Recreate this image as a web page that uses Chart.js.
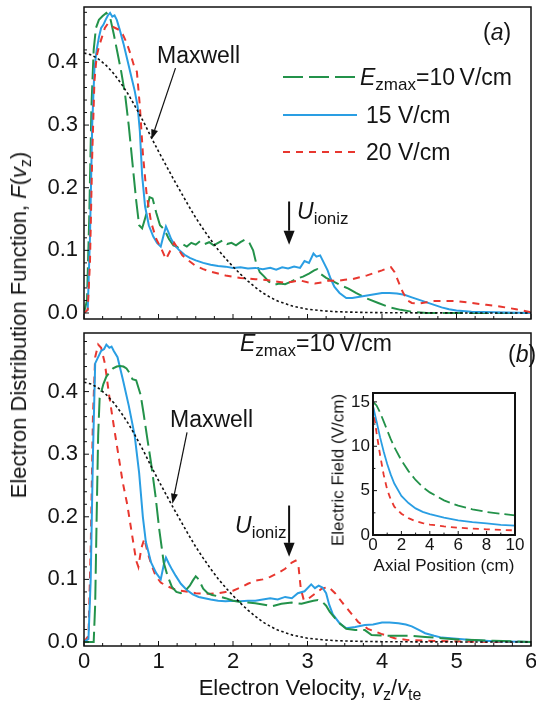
<!DOCTYPE html>
<html lang="en">
<head>
<meta charset="utf-8">
<title>Electron Distribution Function</title>
<script src="https://cdn.jsdelivr.net/npm/chart.js@4.4.1/dist/chart.umd.min.js"></script>
<style>
  body { margin: 0; background: #fff; }
  #fig { position: relative; width: 536px; height: 705px; overflow: hidden;
         font-family: "Liberation Sans", Arial, sans-serif; color: #141414; }
  #fig canvas { position: absolute; }
  .txt { position: absolute; white-space: nowrap; font-size: 22px; line-height: 1; transform: translateY(-50%); }
  .txt sub { font-size: 16px; vertical-align: baseline; position: relative; top: 5px; }
  .nota { font-size: 23px; }
  .nota sub { font-size: 17px; }
  .pequeno { font-size: 17px; }
  .vert { transform: translate(-50%, -50%) rotate(-90deg); }
  .centro { transform: translate(-50%, -50%); }
</style>
</head>
<body>
<div id="fig">
  <canvas id="graficoA" style="left:0;top:0" width="536" height="330"></canvas>
  <canvas id="graficoB" style="left:0;top:330px" width="536" height="375"></canvas>
  <canvas id="graficoInset" style="left:320px;top:385px" width="210" height="190"></canvas>

  <div class="txt nota" style="left:483px;top:32px">(<i>a</i>)</div>
  <div class="txt nota" style="left:360px;top:77px"><i>E</i><sub>zmax</sub>=10&#8201;V/cm</div>
  <div class="txt nota" style="left:366px;top:115px">15 V/cm</div>
  <div class="txt nota" style="left:366px;top:152px">20 V/cm</div>
  <div class="txt nota" style="left:157px;top:55px">Maxwell</div>
  <div class="txt nota" style="left:297px;top:211px"><i>U</i><sub>ioniz</sub></div>

  <div class="txt nota" style="left:240px;top:343px"><i>E</i><sub>zmax</sub>=10&#8201;V/cm</div>
  <div class="txt nota" style="left:508px;top:354px">(<i>b</i>)</div>
  <div class="txt nota" style="left:170px;top:419px">Maxwell</div>
  <div class="txt nota" style="left:235px;top:525px"><i>U</i><sub>ioniz</sub></div>

  <div class="txt vert" style="left:19px;top:325px">Electron Distribution Function, <i>F</i>(<i>v</i><sub>z</sub>)</div>
  <div class="txt centro" style="left:310px;top:688px">Electron Velocity, <i>v</i><sub>z</sub>/<i>v</i><sub>te</sub></div>

  <div class="txt pequeno centro" style="left:444px;top:565px">Axial Position (cm)</div>
  <div class="txt pequeno vert" style="left:338px;top:470px">Electric Field (V/cm)</div>
</div>

<script>
const velTicks = [0, 1, 2, 3, 4, 5, 6]
const fTicks = [0, 0.1, 0.2, 0.3, 0.4]
const posTicks = [0, 2, 4, 6, 8, 10]
const campoTicks = [0, 5, 10, 15]

// Maxwell (pontilhada, igual nos dois paineis)
const vMaxwell = [0, 0.1, 0.2, 0.3, 0.4, 0.5, 0.6, 0.7, 0.8, 0.9, 1.0, 1.1, 1.2, 1.3, 1.4, 1.5, 1.6, 1.7, 1.8, 1.9, 2.0, 2.1, 2.2, 2.3, 2.4, 2.5, 2.6, 2.8, 3.0, 3.2, 3.4, 3.7, 4.0, 4.5, 5.0, 6.0]
const fMaxwell = [0.415, 0.412, 0.405, 0.395, 0.382, 0.366, 0.348, 0.327, 0.305, 0.281, 0.258, 0.236, 0.214, 0.193, 0.172, 0.152, 0.134, 0.117, 0.101, 0.087, 0.074, 0.062, 0.051, 0.041, 0.032, 0.025, 0.019, 0.011, 0.006, 0.0035, 0.002, 0.001, 0.0005, 0.0002, 0.0001, 0]

// painel (a)
const vA10 = [0, 0.04, 0.07, 0.1, 0.13, 0.16, 0.2, 0.25, 0.3, 0.35, 0.4, 0.45, 0.5, 0.55, 0.6, 0.65, 0.7, 0.74, 0.78, 0.83, 0.88, 0.92, 0.97, 1.02, 1.08, 1.14, 1.2, 1.26, 1.32, 1.38, 1.44, 1.5, 1.56, 1.62, 1.68, 1.74, 1.8, 1.86, 1.92, 1.98, 2.04, 2.1, 2.16, 2.22, 2.27, 2.31, 2.36, 2.42, 2.48, 2.55, 2.62, 2.7, 2.78, 2.86, 2.94, 3.02, 3.09, 3.13, 3.18, 3.25, 3.35, 3.45, 3.55, 3.65, 3.8, 3.95, 4.1, 4.25, 4.4, 4.6, 5, 6]
const fA10 = [0, 0.02, 0.15, 0.33, 0.42, 0.455, 0.468, 0.474, 0.479, 0.472, 0.445, 0.415, 0.385, 0.35, 0.3, 0.24, 0.18, 0.14, 0.135, 0.155, 0.185, 0.183, 0.16, 0.14, 0.133, 0.118, 0.108, 0.105, 0.11, 0.106, 0.112, 0.109, 0.115, 0.11, 0.113, 0.108, 0.112, 0.116, 0.11, 0.112, 0.108, 0.113, 0.117, 0.112, 0.1, 0.08, 0.065, 0.058, 0.05, 0.045, 0.047, 0.046, 0.05, 0.055, 0.058, 0.063, 0.068, 0.07, 0.062, 0.056, 0.05, 0.044, 0.039, 0.032, 0.023, 0.016, 0.009, 0.005, 0.002, 0, 0, 0]

const vA15 = [0, 0.05, 0.08, 0.11, 0.14, 0.17, 0.2, 0.23, 0.26, 0.29, 0.32, 0.35, 0.38, 0.41, 0.44, 0.48, 0.53, 0.58, 0.63, 0.68, 0.72, 0.75, 0.78, 0.82, 0.87, 0.93, 0.98, 1.03, 1.07, 1.1, 1.13, 1.17, 1.22, 1.28, 1.35, 1.42, 1.5, 1.6, 1.7, 1.8, 1.9, 2.0, 2.1, 2.2, 2.3, 2.4, 2.5, 2.58, 2.66, 2.74, 2.82, 2.9, 2.96, 3.02, 3.08, 3.12, 3.17, 3.22, 3.27, 3.31, 3.36, 3.43, 3.52, 3.6, 3.7, 3.8, 3.9, 4.0, 4.1, 4.2, 4.3, 4.4, 4.5, 4.6, 4.7, 4.8, 4.9, 5.0, 5.2, 5.5, 6]
const fA15 = [0, 0.005, 0.12, 0.3, 0.39, 0.42, 0.44, 0.455, 0.46, 0.468, 0.475, 0.479, 0.473, 0.475, 0.468, 0.452, 0.43, 0.405, 0.38, 0.355, 0.33, 0.29, 0.22, 0.17, 0.14, 0.122, 0.112, 0.106, 0.125, 0.138, 0.13, 0.118, 0.108, 0.1, 0.093, 0.088, 0.084, 0.08, 0.077, 0.075, 0.074, 0.072, 0.073, 0.071, 0.072, 0.07, 0.072, 0.069, 0.073, 0.071, 0.074, 0.072, 0.083, 0.08, 0.095, 0.09, 0.092, 0.08, 0.068, 0.055, 0.042, 0.032, 0.024, 0.024, 0.026, 0.028, 0.03, 0.032, 0.032, 0.031, 0.029, 0.025, 0.021, 0.017, 0.013, 0.009, 0.006, 0.004, 0.002, 0.001, 0]

const vA20 = [0, 0.05, 0.08, 0.11, 0.14, 0.17, 0.2, 0.24, 0.28, 0.32, 0.37, 0.42, 0.47, 0.52, 0.57, 0.62, 0.67, 0.71, 0.75, 0.79, 0.84, 0.9, 0.97, 1.04, 1.1, 1.16, 1.21, 1.26, 1.32, 1.4, 1.5, 1.6, 1.7, 1.8, 1.9, 2.0, 2.1, 2.2, 2.3, 2.4, 2.5, 2.6, 2.7, 2.8, 2.9, 3.0, 3.1, 3.2, 3.3, 3.4, 3.5, 3.6, 3.7, 3.8, 3.9, 4.0, 4.06, 4.12, 4.17, 4.22, 4.28, 4.34, 4.4, 4.5, 4.6, 4.7, 4.8, 5.0, 5.2, 5.4, 5.6, 5.8, 6]
const fA20 = [0, 0.005, 0.08, 0.25, 0.37, 0.41, 0.425, 0.44, 0.455, 0.462, 0.458, 0.455, 0.452, 0.445, 0.432, 0.415, 0.395, 0.385, 0.33, 0.255, 0.19, 0.145, 0.118, 0.102, 0.086, 0.1, 0.112, 0.103, 0.092, 0.084, 0.075, 0.07, 0.066, 0.063, 0.06, 0.058, 0.056, 0.055, 0.054, 0.053, 0.052, 0.05, 0.048, 0.05, 0.052, 0.049, 0.047, 0.049, 0.052, 0.051, 0.053, 0.054, 0.057, 0.06, 0.064, 0.068, 0.071, 0.073, 0.065, 0.05, 0.033, 0.02, 0.016, 0.015, 0.017, 0.019, 0.019, 0.019, 0.016, 0.013, 0.01, 0.006, 0.001]

// painel (b)
const vB10 = [0, 0.13, 0.15, 0.17, 0.19, 0.21, 0.26, 0.3, 0.35, 0.39, 0.44, 0.48, 0.53, 0.57, 0.61, 0.65, 0.7, 0.76, 0.8, 0.85, 0.9, 0.96, 1.01, 1.07, 1.12, 1.18, 1.24, 1.3, 1.36, 1.42, 1.46, 1.5, 1.54, 1.6, 1.66, 1.72, 1.8, 1.9, 2.0, 2.1, 2.2, 2.3, 2.4, 2.52, 2.65, 2.79, 2.92, 3.01, 3.08, 3.14, 3.2, 3.25, 3.3, 3.41, 3.52, 3.64, 3.77, 3.86, 4.04, 4.22, 4.4, 4.58, 4.8, 5.02, 5.25, 5.5, 6]
const fB10 = [0, 0, 0.06, 0.2, 0.33, 0.39, 0.412, 0.424, 0.432, 0.437, 0.44, 0.441, 0.44, 0.437, 0.43, 0.42, 0.418, 0.395, 0.365, 0.325, 0.286, 0.233, 0.18, 0.127, 0.106, 0.088, 0.08, 0.078, 0.082, 0.09, 0.098, 0.105, 0.1, 0.085, 0.078, 0.075, 0.073, 0.07, 0.066, 0.064, 0.063, 0.062, 0.06, 0.057, 0.061, 0.063, 0.061, 0.064, 0.066, 0.067, 0.064, 0.058, 0.048, 0.032, 0.021, 0.019, 0.019, 0.011, 0.01, 0.01, 0.01, 0.008, 0.006, 0.004, 0.003, 0.002, 0]

const vB15 = [0, 0.06, 0.09, 0.12, 0.15, 0.19, 0.23, 0.27, 0.3, 0.34, 0.37, 0.4, 0.45, 0.52, 0.6, 0.68, 0.74, 0.79, 0.83, 0.9, 0.97, 1.03, 1.07, 1.1, 1.14, 1.18, 1.23, 1.3, 1.38, 1.46, 1.54, 1.62, 1.7, 1.8, 1.9, 2.0, 2.1, 2.2, 2.3, 2.4, 2.5, 2.6, 2.7, 2.79, 2.87, 2.96, 3.05, 3.1, 3.15, 3.2, 3.25, 3.29, 3.34, 3.43, 3.52, 3.64, 3.77, 3.88, 4.0, 4.1, 4.22, 4.32, 4.4, 4.5, 4.58, 4.7, 4.8, 5.0, 5.2, 5.5, 6]
const fB15 = [0, 0.005, 0.1, 0.3, 0.445, 0.455, 0.465, 0.468, 0.475, 0.47, 0.472, 0.465, 0.455, 0.42, 0.378, 0.33, 0.27, 0.2, 0.16, 0.127, 0.11, 0.1, 0.123, 0.135, 0.125, 0.116, 0.106, 0.093, 0.083, 0.076, 0.072, 0.07, 0.068, 0.066, 0.065, 0.066, 0.065, 0.066, 0.066, 0.068, 0.07, 0.068, 0.072, 0.07, 0.078, 0.081, 0.092, 0.086, 0.09, 0.087, 0.078, 0.06, 0.044, 0.03, 0.022, 0.024, 0.027, 0.028, 0.031, 0.031, 0.03, 0.028, 0.025, 0.019, 0.014, 0.01, 0.007, 0.005, 0.003, 0.001, 0]

const vB20 = [0, 0.06, 0.09, 0.12, 0.15, 0.19, 0.23, 0.28, 0.34, 0.4, 0.46, 0.52, 0.58, 0.64, 0.7, 0.73, 0.77, 0.81, 0.85, 0.9, 0.96, 1.03, 1.1, 1.2, 1.3, 1.4, 1.5, 1.6, 1.7, 1.8, 1.9, 2.0, 2.1, 2.2, 2.3, 2.4, 2.5, 2.6, 2.7, 2.79, 2.84, 2.88, 2.91, 2.95, 3.01, 3.1, 3.19, 3.28, 3.37, 3.46, 3.55, 3.68, 3.81, 3.99, 4.17, 4.35, 4.6, 5, 5.5, 6]
const fB20 = [0, 0.01, 0.15, 0.36, 0.455, 0.475, 0.47, 0.445, 0.392, 0.345, 0.3, 0.255, 0.22, 0.175, 0.13, 0.12, 0.15, 0.165, 0.145, 0.125, 0.106, 0.095, 0.09, 0.085, 0.082, 0.08, 0.078, 0.077, 0.077, 0.078, 0.08, 0.082, 0.087, 0.093, 0.098, 0.1, 0.104, 0.11, 0.117, 0.127, 0.13, 0.12, 0.085, 0.067, 0.069, 0.077, 0.085, 0.088, 0.078, 0.064, 0.051, 0.032, 0.021, 0.013, 0.006, 0.003, 0.002, 0.001, 0, 0]

// inset: campo eletrico x posicao axial
const posInset = [0, 0.25, 0.5, 0.75, 1, 1.25, 1.5, 2, 2.5, 3, 3.5, 4, 5, 6, 7, 8, 9, 10]
const campo10 = [15, 14.6, 13.8, 12.8, 11.8, 10.8, 9.9, 8.4, 7.2, 6.2, 5.4, 4.8, 3.9, 3.3, 2.9, 2.6, 2.4, 2.2]
const campo15 = [14.5, 12.8, 11, 9.4, 8.0, 6.8, 5.8, 4.4, 3.6, 3.0, 2.6, 2.35, 1.95, 1.65, 1.45, 1.3, 1.15, 1.05]
const campo20 = [14.5, 11.5, 9, 6.8, 5.1, 4.0, 3.2, 2.4, 1.9, 1.55, 1.35, 1.18, 0.97, 0.82, 0.72, 0.64, 0.58, 0.52]

const cores = { verde: '#23924a', azul: '#2a9ee3', vermelho: '#e8372f', preto: '#111' }
const tracos = { verde: [20, 6], azul: [], vermelho: [7, 6], maxwell: [2.5, 2.5] }

Chart.defaults.font.family = '"Liberation Sans", Arial, sans-serif'
Chart.defaults.color = '#141414'

function pontos(xs, ys){
    return xs.map((x, i) => ({ x: x, y: ys[i] }))
}

function serie(xs, ys, cor, traco, largura){
    return {
        data: pontos(xs, ys),
        borderColor: cor,
        borderDash: traco,
        borderWidth: largura,
        pointRadius: 0,
        tension: 0,
        fill: false
    }
}

const molduraPlugin = {
    id: 'moldura',
    afterDatasetsDraw(chart, args, op){
        const ctx = chart.ctx
        const a = chart.chartArea
        const x = chart.scales.x
        const y = chart.scales.y
        ctx.save()
        ctx.setLineDash([])
        ctx.strokeStyle = '#111'
        ctx.lineWidth = op.espessura
        ctx.strokeRect(a.left, a.top, a.right - a.left, a.bottom - a.top)
        ctx.lineWidth = 1
        ctx.beginPath()
        for(let i = 0; i * op.passoX <= x.max + 1e-9; i++){
            const v = i * op.passoX
            const px = x.getPixelForValue(v)
            const maior = Math.abs(v / op.maiorX - Math.round(v / op.maiorX)) < 1e-6
            const t = maior ? op.tick : op.tick * 0.6
            ctx.moveTo(px, a.bottom)
            ctx.lineTo(px, a.bottom - t)
        }
        for(let i = 0; i * op.passoY <= y.max + 1e-9; i++){
            const v = i * op.passoY
            const py = y.getPixelForValue(v)
            const maior = Math.abs(v / op.maiorY - Math.round(v / op.maiorY)) < 1e-6
            const t = maior ? op.tick : op.tick * 0.6
            ctx.moveTo(a.left, py)
            ctx.lineTo(a.left + t, py)
        }
        ctx.stroke()
        ctx.restore()
    }
}

const setasPlugin = {
    id: 'setas',
    afterDatasetsDraw(chart, args, op){
        const ctx = chart.ctx
        const x = chart.scales.x
        const y = chart.scales.y
        ctx.save()
        ctx.setLineDash([])
        ctx.fillStyle = '#111'
        ctx.strokeStyle = '#111'
        for(const s of op.lista || []){
            const x1 = x.getPixelForValue(s.de[0]), y1 = y.getPixelForValue(s.de[1])
            const x2 = x.getPixelForValue(s.ate[0]), y2 = y.getPixelForValue(s.ate[1])
            const ang = Math.atan2(y2 - y1, x2 - x1)
            const bx = x2 - s.cabeca * Math.cos(ang)
            const by = y2 - s.cabeca * Math.sin(ang)
            ctx.lineWidth = s.largura
            ctx.beginPath()
            ctx.moveTo(x1, y1)
            ctx.lineTo(bx, by)
            ctx.stroke()
            ctx.beginPath()
            ctx.moveTo(x2, y2)
            ctx.lineTo(bx + s.meia * Math.sin(ang), by - s.meia * Math.cos(ang))
            ctx.lineTo(bx - s.meia * Math.sin(ang), by + s.meia * Math.cos(ang))
            ctx.closePath()
            ctx.fill()
        }
        ctx.restore()
    }
}

const legendaPlugin = {
    id: 'legenda',
    afterDatasetsDraw(chart, args, op){
        const ctx = chart.ctx
        ctx.save()
        for(const item of op.itens || []){
            ctx.strokeStyle = item.cor
            ctx.lineWidth = 2
            ctx.setLineDash(item.traco)
            ctx.beginPath()
            ctx.moveTo(op.x1, item.y)
            ctx.lineTo(op.x2, item.y)
            ctx.stroke()
        }
        ctx.restore()
    }
}

function configurar(series, eixo){
    return {
        type: 'line',
        data: { datasets: series },
        plugins: [molduraPlugin, setasPlugin, legendaPlugin],
        options: {
            responsive: false,
            animation: false,
            events: [],
            layout: { padding: eixo.padding },
            plugins: {
                legend: { display: false },
                tooltip: { enabled: false },
                moldura: eixo.moldura,
                setas: { lista: eixo.setas || [] },
                legenda: { x1: 283, x2: 357, itens: eixo.legenda || [] }
            },
            scales: {
                x: {
                    type: 'linear',
                    min: eixo.xMin,
                    max: eixo.xMax,
                    grid: { display: false, drawTicks: false },
                    border: { display: false },
                    ticks: { display: eixo.rotulosX, padding: eixo.padX, font: { size: eixo.fonte }, maxRotation: 0, autoSkip: false },
                    afterBuildTicks: s => { s.ticks = eixo.ticksX.map(v => ({ value: v })) },
                    afterFit: s => { s.height = eixo.alturaX; s.paddingLeft = 0; s.paddingRight = 0 }
                },
                y: {
                    type: 'linear',
                    min: eixo.yMin,
                    max: eixo.yMax,
                    grid: { display: false, drawTicks: false },
                    border: { display: false },
                    ticks: { padding: eixo.padY, font: { size: eixo.fonte }, callback: eixo.formatoY },
                    afterBuildTicks: s => { s.ticks = eixo.ticksY.map(v => ({ value: v })) },
                    afterFit: s => { s.width = eixo.larguraY; s.paddingTop = 0; s.paddingBottom = 0 }
                }
            }
        }
    }
}

const formatoF = v => v.toFixed(1)

const graficoA = new Chart(document.getElementById('graficoA'), configurar([
    serie(vMaxwell, fMaxwell, cores.preto, tracos.maxwell, 1.6),
    serie(vA20, fA20, cores.vermelho, tracos.vermelho, 2),
    serie(vA15, fA15, cores.azul, tracos.azul, 2),
    serie(vA10, fA10, cores.verde, tracos.verde, 2)
], {
    padding: { left: 0, top: 7, right: 5, bottom: 11 },
    xMin: 0, xMax: 6, yMin: -0.0096, yMax: 0.4885,
    ticksX: velTicks, ticksY: fTicks, formatoY: formatoF,
    rotulosX: false, alturaX: 0, padX: 3, larguraY: 84, padY: 6, fonte: 22,
    moldura: { espessura: 1.5, tick: 5, passoX: 0.25, maiorX: 1, passoY: 0.02, maiorY: 0.1 },
    setas: [
        { de: [1.228, 0.391], ate: [0.905, 0.277], cabeca: 10, meia: 3.5, largura: 1.2 },
        { de: [2.753, 0.178], ate: [2.753, 0.109], cabeca: 14, meia: 5.5, largura: 2 }
    ],
    legenda: [
        { y: 77, cor: cores.verde, traco: tracos.verde },
        { y: 115, cor: cores.azul, traco: tracos.azul },
        { y: 152, cor: cores.vermelho, traco: tracos.vermelho }
    ]
}))

const graficoB = new Chart(document.getElementById('graficoB'), configurar([
    serie(vMaxwell, fMaxwell, cores.preto, tracos.maxwell, 1.6),
    serie(vB10, fB10, cores.verde, tracos.verde, 2),
    serie(vB15, fB15, cores.azul, tracos.azul, 2),
    serie(vB20, fB20, cores.vermelho, tracos.vermelho, 2)
], {
    padding: { left: 0, top: 3, right: 5, bottom: 0 },
    xMin: 0, xMax: 6, yMin: -0.0064, yMax: 0.4936,
    ticksX: velTicks, ticksY: fTicks, formatoY: formatoF,
    rotulosX: true, alturaX: 59, padX: 3, larguraY: 84, padY: 6, fonte: 22,
    moldura: { espessura: 1.5, tick: 5, passoX: 0.25, maiorX: 1, passoY: 0.02, maiorY: 0.1 },
    setas: [
        { de: [1.383, 0.335], ate: [1.187, 0.221], cabeca: 10, meia: 3.5, largura: 1.2 },
        { de: [2.753, 0.218], ate: [2.753, 0.136], cabeca: 14, meia: 5.5, largura: 2 }
    ]
}))

const graficoInset = new Chart(document.getElementById('graficoInset'), configurar([
    serie(posInset, campo10, cores.verde, [12, 5], 1.8),
    serie(posInset, campo15, cores.azul, [], 1.8),
    serie(posInset, campo20, cores.vermelho, [6, 5], 1.8)
], {
    padding: { left: 0, top: 8, right: 15, bottom: 0 },
    xMin: 0, xMax: 10, yMin: 0, yMax: 16,
    ticksX: posTicks, ticksY: campoTicks, formatoY: v => v,
    rotulosX: true, alturaX: 40, padX: 0, larguraY: 53, padY: 3, fonte: 17,
    moldura: { espessura: 2, tick: 4, passoX: 1, maiorX: 2, passoY: 2.5, maiorY: 5 }
}))
</script>
</body>
</html>
